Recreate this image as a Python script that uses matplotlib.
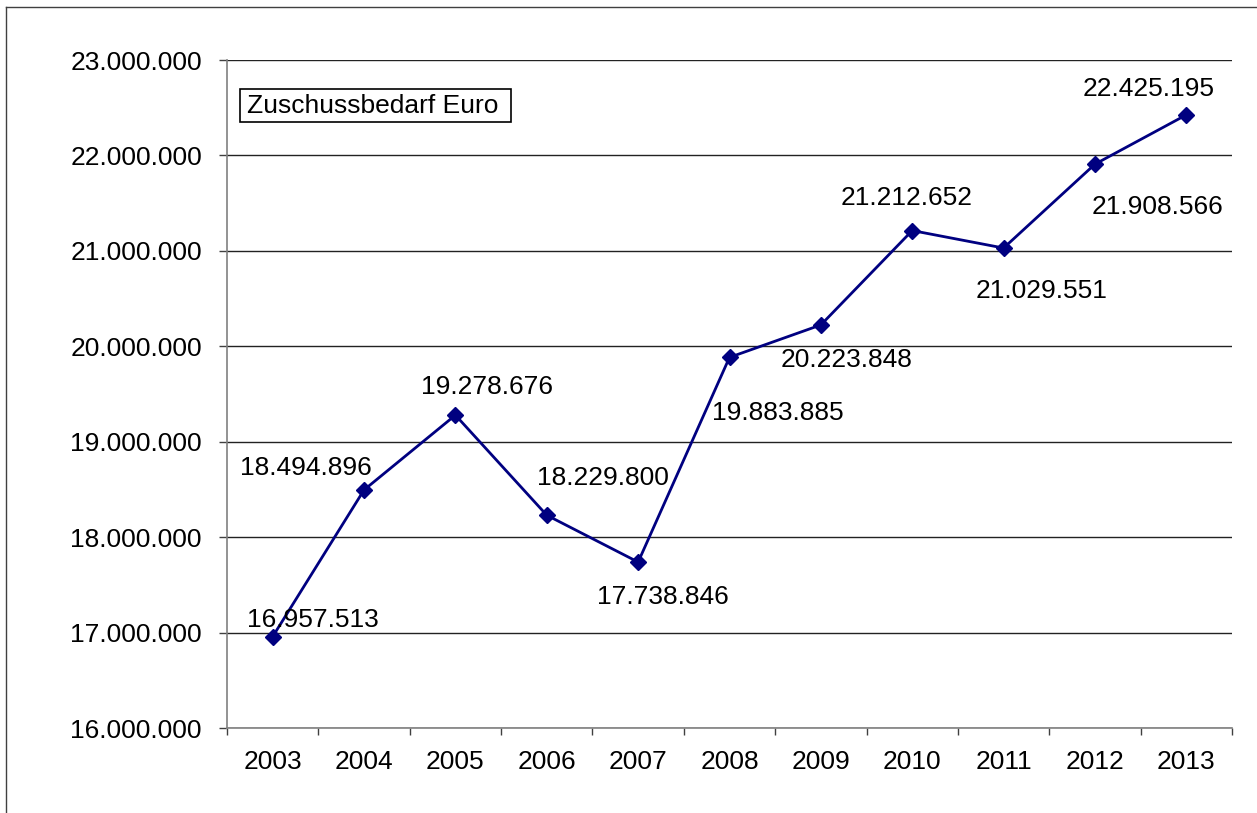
import numpy as np
import matplotlib
matplotlib.use('Agg')
import matplotlib.pyplot as plt
from matplotlib.lines import Line2D
from matplotlib.patches import Rectangle
from matplotlib.ticker import FuncFormatter

plt.rcParams['font.family'] = ['Liberation Sans', 'DejaVu Sans']

years = ['2003', '2004', '2005', '2006', '2007', '2008', '2009', '2010', '2011', '2012', '2013']
zuschuss = [16957513, 18494896, 19278676, 18229800, 17738846, 19883885,
            20223848, 21212652, 21029551, 21908566, 22425195]
# label offsets in pixels (dx, dy up), as placed in the original
label_off = [(40, 17), (-58, 22), (32, 28), (56, 37), (25, -35), (48, -56),
             (26, -35), (-6, 33), (38, -43), (63, -43), (-38, 26)]

W, H = 1257, 813
fig = plt.figure(figsize=(W / 100, H / 100), dpi=100)
ax = fig.add_axes([227 / W, (H - 728) / H, (1232 - 227) / W, (728 - 60) / H])

x = np.arange(len(years))
ax.plot(x, zuschuss, color='#000080', lw=2, marker='D', ms=8, mec='#000080', mfc='#000080', zorder=3)

def fmt(v):
    return f'{int(round(v)):,}'.replace(',', '.')

for xi, v, (dx, dy) in zip(x, zuschuss, label_off):
    ax.annotate(fmt(v), (xi, v), xytext=(dx, dy), textcoords='offset pixels',
                ha='center', va='center', fontsize=19, color='black', zorder=4)

ax.set_xlim(-0.5, len(years) - 0.5)
ax.set_ylim(16e6, 23e6)
ax.set_yticks(np.arange(16e6, 23e6 + 1, 1e6))
ax.yaxis.set_major_formatter(FuncFormatter(lambda v, p: fmt(v)))
ax.set_xticks(x)
ax.set_xticklabels(years)
ax.set_xticks(np.arange(-0.5, len(years)), minor=True)
ax.tick_params(axis='x', which='major', length=0, pad=16, labelsize=19)
ax.tick_params(axis='x', which='minor', length=5, width=1, color='#404040', direction='out')
ax.tick_params(axis='y', length=5.8, width=1, color='#404040', pad=12.2, labelsize=19)

ax.grid(axis='y', color='#222222', lw=1)
ax.set_axisbelow(True)
for s in ['top', 'right']:
    ax.spines[s].set_visible(False)
for s in ['left', 'bottom']:
    ax.spines[s].set_color('#808080')
    ax.spines[s].set_linewidth(1.2)

# legend box
fig.add_artist(Rectangle((240 / W, 1 - 122 / H), (511 - 240) / W, (122 - 89) / H,
                         transform=fig.transFigure, fc='white', ec='black', lw=1.2))
fig.text(247 / W, 1 - 106 / H, 'Zuschussbedarf Euro', fontsize=19, ha='left', va='center')

# outer chart frame
fig.add_artist(Line2D([6 / W, 6 / W], [0, 1 - 7 / H], transform=fig.transFigure, color='#404040', lw=1))
fig.add_artist(Line2D([6 / W, 1], [1 - 7 / H, 1 - 7 / H], transform=fig.transFigure, color='#404040', lw=1))

fig.savefig('out.png', dpi=100)
